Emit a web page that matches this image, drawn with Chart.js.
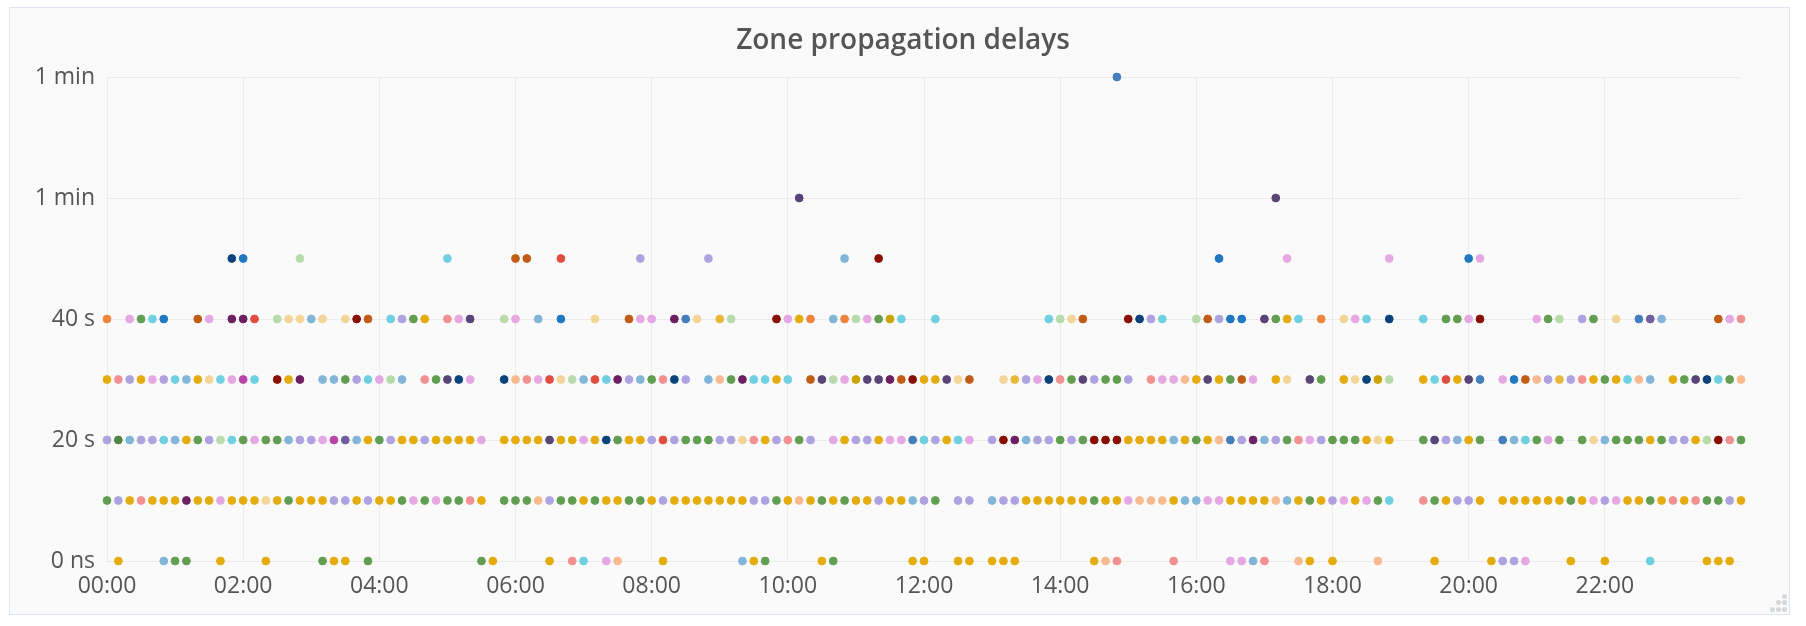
<!DOCTYPE html>
<html>
<head>
<meta charset="utf-8">
<title>Zone propagation delays</title>
<script src="https://cdn.jsdelivr.net/npm/chart.js@4.4.0/dist/chart.umd.min.js"></script>
<style>
  html, body { margin: 0; padding: 0; background: #fff; }
  body { width: 1806px; height: 626px; position: relative; overflow: hidden; font-family: "Open Sans", sans-serif; }
  .panel { position: absolute; left: 9px; top: 7px; width: 1779px; height: 606px; background: #fafafa; border: 1px solid #dde6f1; }
  .chart-box { position: absolute; left: 0; top: 0; width: 1806px; height: 626px; }
  .grip span { position: absolute; width: 5px; height: 5px; border-radius: 50%; background: #d6d7d9; }
</style>
</head>
<body>
<div class="panel"></div>
<div class="chart-box"><canvas id="delays"></canvas></div>
<div class="grip">
  <span style="left:1782px;top:594px"></span>
  <span style="left:1776px;top:600px"></span>
  <span style="left:1782px;top:600px"></span>
  <span style="left:1770px;top:607px"></span>
  <span style="left:1776px;top:607px"></span>
  <span style="left:1782px;top:607px"></span>
</div>
<script>
// one sample every 10 minutes, 00:00 .. 24:00 (145 slots)
// each char is the series colour of the point in that slot, '.' = no point
const slotMinutes = 10;

const row40s = 'O.pgcB..kp.mmR.ewwbw.wrk.clgy.spv..ep' +
               '.b.B..w..kpp.mLw.Ye...rpyO.bOepgDc.' +
               '.c.........cewk...rnlc..eklBB.vgyc.O' +
               '.wpc.n..c.ggpr....pge.lg.w.LPb....kps';
const row30s = 'yslyplcbywcpMc.rym.bbglcpeb.sgvnp..no' +
               'spRwebRcmlbgsnl.bogmccyc.kvepDvvmkr' +
               'yyvwk..wYlpnsgvlggl.sppoyvygkp.yw.vg' +
               '.ywnDe..ycRyvL.pBkolYlsygycob.ygvncgo';
const row20s = 'lGbllcbyglecgpggbllpMPbyglyylyyyyp.yy' +
               'yyvyypyngyylRlgggllwsylsgl.pyllyppL' +
               'clycp.lrmbllglgrrryyyybygyoLlmblgspl' +
               'gggywy..gvlbyg.Lbcgpg.gwbgggygllyersg';
const row10s = 'glysyyymyypyyywygyyyllylyygpgpggsy.gg' +
               'golggygyyggylyyyyyyyllgyoygygyylyyb' +
               'lg.ll.bllyyyyyygyypoooybbppyyyyobygy' +
               'lpypgc..sgylly.yyyyyygyplpyygysysggly';
const row0s  = '.y...bgg..y...y....gyy.g.........gy..' +
               '..y.sc.po...y......byg....yg......y' +
               'y..yy.yyy......yos....s....ppbs..oy.' +
               'y...o....y....yllp...y..y...c....yyy.';

// sparse outliers: [slot, colour]
const row50s = [[11, 'n'], [12, 'B'], [17, 'e'], [30, 'c'], [36, 'k'], [37, 'k'], [40, 'R'], [47, 'l'],
                [53, 'l'], [65, 'b'], [68, 'r'], [98, 'B'], [104, 'p'], [113, 'p'], [120, 'B'], [121, 'p']];
const row60s = [[61, 'v'], [103, 'v']];
const row80s = [[89, 'L']];

const xTickLabels = ['00:00', '02:00', '04:00', '06:00', '08:00', '10:00',
                     '12:00', '14:00', '16:00', '18:00', '20:00', '22:00'];
const yTickLabels = ['0 ns', '20 s', '40 s', '1 min', '1 min'];

const palette = {
    g: '#629E51', G: '#508642', y: '#E5AC0E', Y: '#EAB839', D: '#CCA300', l: '#AEA2E0',
    p: '#E5A8E2', b: '#82B5D8', c: '#6ED0E0', s: '#F29191', o: '#F9BA8F', w: '#F4D598',
    e: '#B7DBAB', r: '#890F02', n: '#0A437C', m: '#6D1F62', v: '#584477', k: '#C15C17',
    O: '#EF843C', R: '#E24D42', B: '#1F78C1', L: '#447EBC', M: '#BA43A9', P: '#705DA0'
};

const points = {};

function addPoint(code, slot, level) {
    if (!points[code]) points[code] = [];
    points[code].push({ x: slot * slotMinutes, y: level });
}

function addRow(str, level) {
    for (let i = 0; i < str.length; i++) {
        if (str[i] !== '.') addPoint(str[i], i, level);
    }
}

addRow(row0s, 0);
addRow(row10s, 10);
addRow(row20s, 20);
addRow(row30s, 30);
addRow(row40s, 40);
row50s.forEach(p => addPoint(p[1], p[0], 50));
row60s.forEach(p => addPoint(p[1], p[0], 60));
row80s.forEach(p => addPoint(p[1], p[0], 80));

const datasets = Object.keys(palette).filter(k => points[k]).map(k => ({
    label: k,
    data: points[k],
    backgroundColor: palette[k],
    borderColor: palette[k],
    pointRadius: 3.9,
    borderWidth: 1,
    clip: false
}));

const textColor = '#555555';
const gridColor = '#ebebeb';
const titleText = 'Zone propagation delays';

// panel title, centred on the whole panel (not on the plot area)
const panelTitle = {
    id: 'panelTitle',
    afterDraw(chart) {
        const ctx = chart.ctx;
        ctx.save();
        ctx.font = '600 28px "Open Sans"';
        ctx.fillStyle = textColor;
        ctx.textAlign = 'center';
        ctx.textBaseline = 'alphabetic';
        ctx.fillText(titleText, 903, 49);
        ctx.restore();
    }
};

new Chart(document.getElementById('delays'), {
    type: 'scatter',
    data: { datasets: datasets },
    plugins: [panelTitle],
    options: {
        responsive: true,
        maintainAspectRatio: false,
        animation: false,
        layout: { padding: { top: 77, right: 65, bottom: 0, left: 0 } },
        plugins: {
            legend: { display: false },
            tooltip: { enabled: false },
            title: { display: false }
        },
        scales: {
            x: {
                type: 'linear',
                min: 0,
                max: 1440,
                afterFit: scale => { scale.height = 65; },
                border: { display: false },
                grid: {
                    color: ctx => (ctx.tick && ctx.tick.value >= 1440) ? 'rgba(0,0,0,0)' : gridColor,
                    drawTicks: false
                },
                ticks: {
                    stepSize: 120,
                    padding: 12,
                    maxRotation: 0,
                    autoSkip: false,
                    color: textColor,
                    font: { family: 'Open Sans', size: 23 },
                    callback: value => xTickLabels[value / 120] || ''
                }
            },
            y: {
                min: 0,
                max: 80,
                afterFit: scale => { scale.width = 107; },
                border: { display: false },
                grid: { color: gridColor, drawTicks: false },
                ticks: {
                    stepSize: 20,
                    padding: 12,
                    color: textColor,
                    font: { family: 'Open Sans', size: 23 },
                    callback: value => yTickLabels[value / 20]
                }
            }
        }
    }
});
</script>
</body>
</html>
